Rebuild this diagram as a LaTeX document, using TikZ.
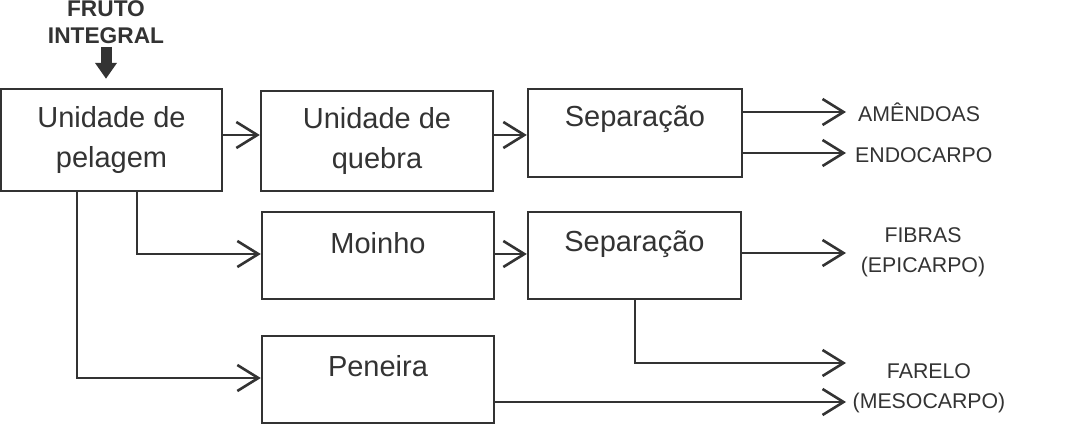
\documentclass[tikz,border=0pt]{standalone}
\usepackage{fontspec}
\setmainfont{Liberation Sans}
\usetikzlibrary{arrows.meta}
\definecolor{ink}{HTML}{333333}
\begin{document}
\begin{tikzpicture}[x=1pt,y=-1pt,
  box/.style={draw=ink, line width=2.4pt, rectangle, inner sep=0pt},
  boxtxt/.style={text=ink, font=\fontsize{29}{40}\selectfont, align=center, inner sep=0pt},
  outtxt/.style={text=ink, font=\fontsize{21.3}{30}\selectfont, align=center, inner sep=0pt},
  flow/.style={draw=ink, line width=2.4pt, -{Straight Barb[length=21pt,width=26pt,line width=2.6pt]}},
  plain/.style={draw=ink, line width=2.4pt}]
\useasboundingbox (0,0) rectangle (1071,430);

% boxes
\node[box, minimum width=221pt, minimum height=102pt, boxtxt] (pel) at (111.5,140) {Unidade de\\pelagem};
\node[box, minimum width=232pt, minimum height=100pt, boxtxt] (queb) at (377,141) {Unidade de\\quebra};
\node[box, minimum width=214pt, minimum height=88pt] (sepa) at (635,133) {};
\node[box, minimum width=232pt, minimum height=87pt] (moin) at (378,255.5) {};
\node[box, minimum width=213pt, minimum height=87pt] (sepb) at (634.5,255.5) {};
\node[box, minimum width=232pt, minimum height=87pt] (pene) at (378,379.5) {};

\node[boxtxt] (sepatxt) at (635,119) {Separação};
\node[boxtxt] (mointxt) at (378,243) {Moinho};
\node[boxtxt] (sepbtxt) at (634.5,244) {Separação};
\node[boxtxt] (penetxt) at (378,366) {Peneira};

% input
\node[text=ink, font=\bfseries\fontsize{22.7}{27}\selectfont, align=center, inner sep=0pt] (fruto) at (106,22) {FRUTO\\INTEGRAL};
\draw[draw=ink, line width=11pt, -{Triangle[length=16pt,width=21pt]}, shorten >=9pt] (106,47) -- (pel.north -| 106,0);

% outputs
\node[outtxt, anchor=west] (amen) at (858,112) {AMÊNDOAS};
\node[outtxt, anchor=west] (endo) at (855,155) {ENDOCARPO};
\node[outtxt] (fibr) at (923,252) {FIBRAS\\(EPICARPO)};
\node[outtxt] (fare) at (929,388) {FARELO\\(MESOCARPO)};

\coordinate (tA) at (846,112);
\coordinate (tE) at (846,153);
\coordinate (tF) at (846,253);
\coordinate (tM) at (846,363);
\coordinate (tP) at (846,402);

% connectors
\draw[flow] (pel.east |- 0,135) -- (queb.west |- 0,135);
\draw[flow] (queb.east |- 0,135) -- (sepa.west |- 0,135);
\draw[flow] (sepa.east |- tA) -- (tA);
\draw[flow] (sepa.east |- tE) -- (tE);
\draw[flow] (pel.south -| 137,0) |- (moin.west |- 0,254);
\draw[flow] (pel.south -| 77,0) |- (pene.west |- 0,378);
\draw[flow] (moin.east |- 0,254) -- (sepb.west |- 0,254);
\draw[flow] (sepb.east |- tF) -- (tF);
\draw[flow] (sepb.south -| 635,0) |- (tM);
\draw[flow] (pene.east |- tP) -- (tP);
\end{tikzpicture}
\end{document}
